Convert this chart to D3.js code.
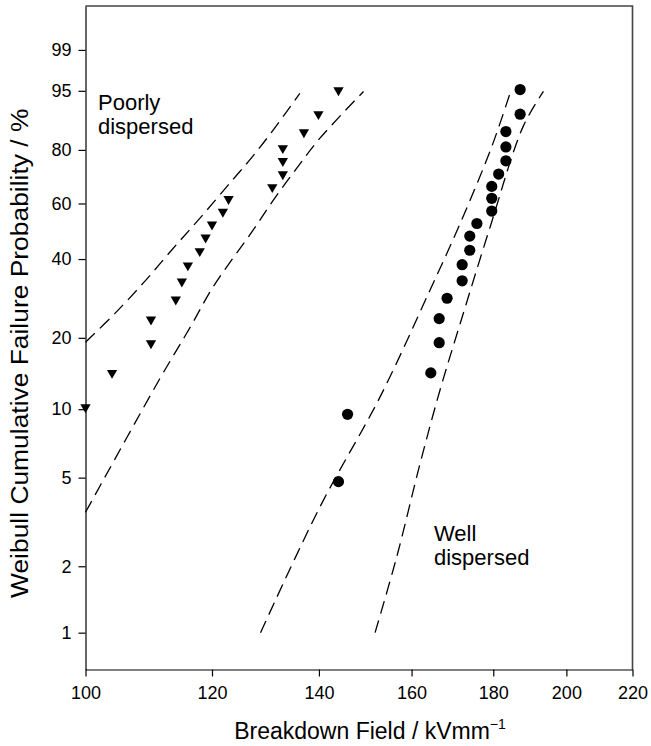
<!DOCTYPE html>
<html>
<head>
<meta charset="utf-8">
<script src="https://cdn.jsdelivr.net/npm/d3@7"></script>
<style>
  html, body { margin: 0; padding: 0; background: #fff; }
  svg { display: block; font-family: "Liberation Sans", Arial, Helvetica, sans-serif; }
</style>
</head>
<body>
<svg id="chart" width="651" height="746"></svg>
<script>
// ---- data ----
const probTicks = [1, 2, 5, 10, 20, 40, 60, 80, 95, 99];
const fieldTicks = [100, 120, 140, 160, 180, 200, 220];

const poorlyField = [100, 103.9, 109.9, 109.9, 113.9, 114.9, 115.9, 117.9, 118.9, 120.0, 121.9, 122.9, 130.9, 132.9, 132.9, 132.9, 137.0, 139.9, 144.0];
const poorlyProb  = [10.2, 14.3, 19.0, 23.7, 28.4, 33.2, 38.0, 42.6, 47.3, 52.0, 56.8, 61.7, 66.3, 71.2, 76.1, 80.6, 85.6, 90.4, 95.1];

const wellField = [144.0, 145.9, 164.5, 166.5, 166.5, 168.4, 172.1, 172.1, 174.0, 174.0, 175.8, 179.6, 179.6, 179.6, 181.4, 183.3, 183.3, 183.3, 187.1, 187.1];
const wellProb  = [4.8, 9.5, 14.3, 19.1, 23.9, 28.7, 33.4, 38.2, 42.9, 47.8, 52.4, 57.1, 62.0, 66.6, 71.3, 76.2, 81.0, 85.8, 90.4, 95.2];

const poorlyUpperField = [100, 104.3, 108.7, 113.2, 117.9, 123.7, 127.1, 131.1, 136.2];
const poorlyUpperProb  = [19.2, 25.0, 32.8, 42.9, 54.3, 69.3, 77.4, 86.3, 94.6];
const poorlyLowerField = [100, 111.3, 116.3, 120.2, 127.1, 131.1, 135.6, 140.2, 149.3];
const poorlyLowerProb  = [3.5, 13.5, 22.1, 31.7, 49.3, 61.3, 73.5, 83.8, 94.9];
const wellUpperField = [128.7, 140.2, 152.9, 164.3, 171.6, 179.6, 184.4];
const wellUpperProb  = [1.0, 3.7, 11.3, 30.8, 52.4, 81.1, 94.6];
const wellLowerField = [151.8, 156.6, 162.0, 166.7, 171.6, 179.2, 187.9, 193.5];
const wellLowerProb  = [1.0, 2.2, 5.8, 12.1, 22.8, 51.2, 87.2, 94.9];

const fieldDomain = [100, 220];
const probDomain = [0.68, 99.933];

// ---- layout ----
const L = 85.5, R = 632.5, T = 6, B = 669.5;
const svg = d3.select("#chart");

const weib = p => Math.log(-Math.log(1 - p / 100));
const x = d3.scaleLog().domain(fieldDomain).range([L, R]);
const yLin = d3.scaleLinear().domain(probDomain.map(weib)).range([B, T]);
const y = p => yLin(weib(p));

// frame (top + right)
svg.append("path")
  .attr("d", `M${L},${T}H${R}V${B}`)
  .attr("fill", "none").attr("stroke", "#444").attr("stroke-width", 1.6);

// x axis
const xAxis = d3.axisBottom(x).tickValues(fieldTicks).tickFormat(d3.format("d")).tickSize(7).tickSizeOuter(0);
const gx = svg.append("g").attr("transform", `translate(0,${B})`).call(xAxis);
gx.select(".domain").attr("stroke", "#000").attr("stroke-width", 1.2);
gx.selectAll(".tick line").attr("stroke", "#000").attr("stroke-width", 1.2);
gx.selectAll(".tick text").attr("font-size", 18).attr("font-family", null).attr("fill", "#000").attr("dy", "1.1em");

// y axis
const yAxisScale = d3.scaleLinear().domain(yLin.domain()).range(yLin.range());
const yAxis = d3.axisLeft(yAxisScale).tickValues(probTicks.map(weib))
  .tickFormat((d, i) => probTicks[i]).tickSize(7).tickSizeOuter(0);
const gy = svg.append("g").attr("transform", `translate(${L},0)`).call(yAxis);
gy.select(".domain").attr("stroke", "#000").attr("stroke-width", 1.2);
gy.selectAll(".tick line").attr("stroke", "#000").attr("stroke-width", 1.2);
gy.selectAll(".tick text").attr("font-size", 18).attr("font-family", null).attr("fill", "#000").attr("x", -14);

// axis titles
svg.append("text")
  .attr("x", 370).attr("y", 739)
  .attr("text-anchor", "middle").attr("font-size", 23)
  .text("Breakdown Field / kVmm")
  .append("tspan").attr("font-size", 14).attr("dy", -10).text("\u22121");

svg.append("text")
  .attr("transform", `translate(27.5,598) rotate(-90) scale(1.1,1)`)
  .attr("text-anchor", "start").attr("font-size", 24)
  .text("Weibull Cumulative Failure Probability / %");

// dashed bound curves
const line = d3.line().x(d => x(d[0])).y(d => y(d[1])).curve(d3.curveCatmullRom.alpha(0.5));
const bounds = [
  d3.zip(poorlyUpperField, poorlyUpperProb),
  d3.zip(poorlyLowerField, poorlyLowerProb),
  d3.zip(wellUpperField, wellUpperProb),
  d3.zip(wellLowerField, wellLowerProb)
];
svg.append("g").selectAll("path").data(bounds).join("path")
  .attr("d", line)
  .attr("fill", "none").attr("stroke", "#000").attr("stroke-width", 1.3)
  .attr("stroke-dasharray", "13,7");

// markers
const tri = d3.symbol().type(d3.symbolTriangle).size(46);
svg.append("g").selectAll("path").data(d3.zip(poorlyField, poorlyProb)).join("path")
  .attr("d", tri)
  .attr("transform", d => `translate(${x(d[0])},${y(d[1])}) rotate(180)`)
  .attr("fill", "#000");

svg.append("g").selectAll("circle").data(d3.zip(wellField, wellProb)).join("circle")
  .attr("cx", d => x(d[0])).attr("cy", d => y(d[1])).attr("r", 5.6)
  .attr("fill", "#000");

// annotations
const ann = svg.append("g").attr("font-size", 22).attr("fill", "#000");
ann.append("text").attr("x", 98).attr("y", 110).text("Poorly");
ann.append("text").attr("x", 98).attr("y", 134).text("dispersed");
ann.append("text").attr("x", 434).attr("y", 541).text("Well");
ann.append("text").attr("x", 434).attr("y", 565).text("dispersed");
</script>
</body>
</html>
